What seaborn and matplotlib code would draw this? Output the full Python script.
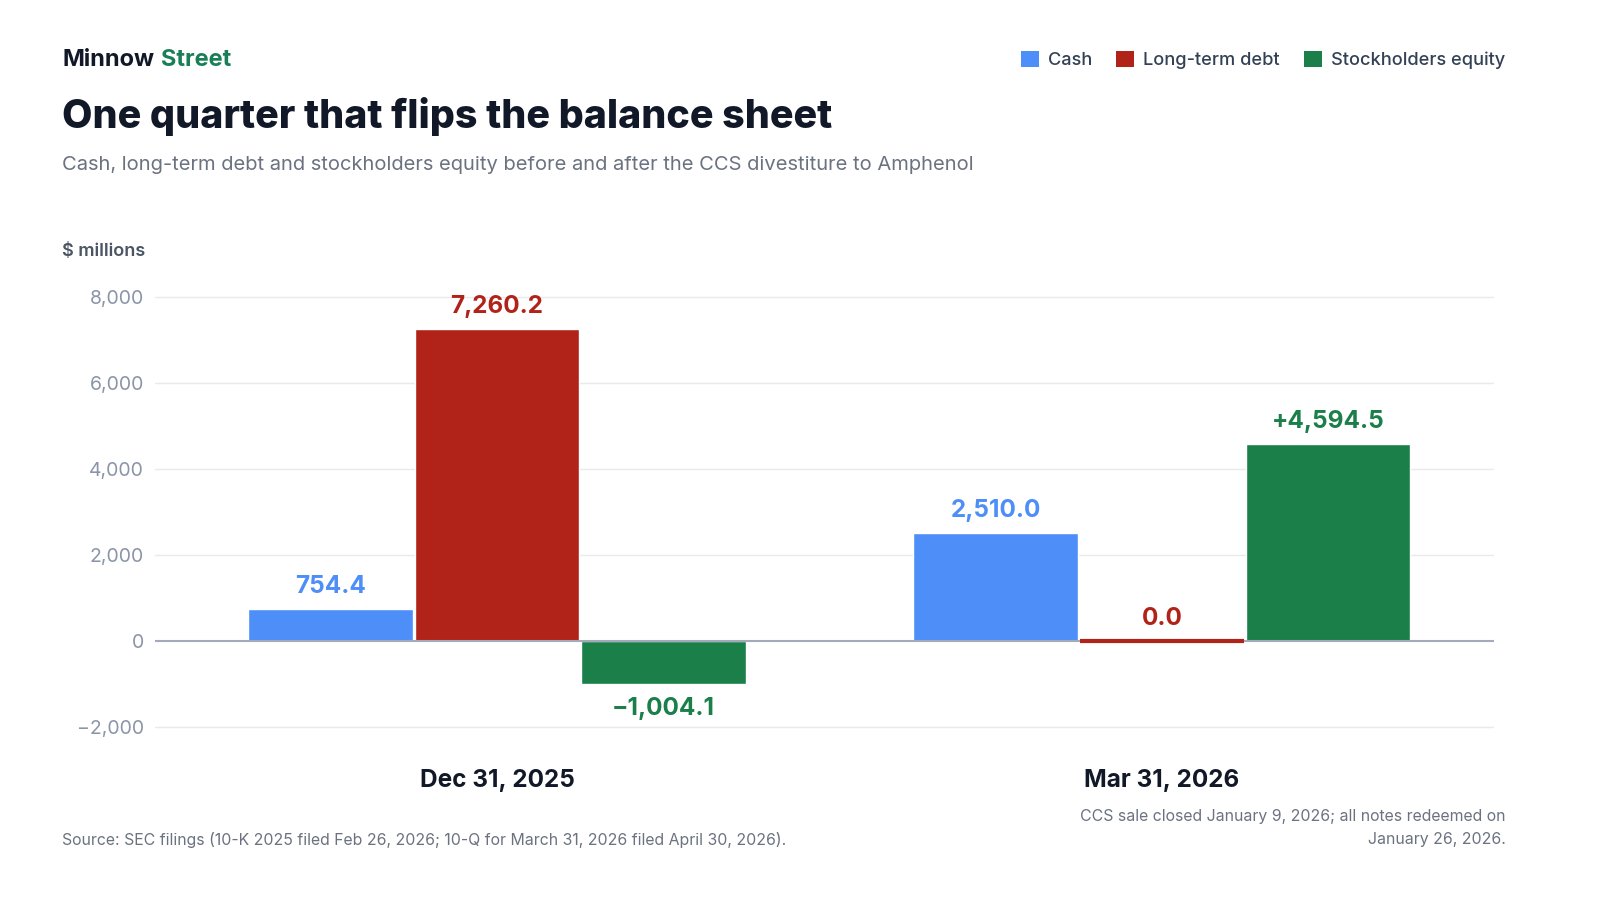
import matplotlib
matplotlib.use("Agg")
import matplotlib.pyplot as plt
import seaborn as sns
import pandas as pd
from matplotlib.patches import Patch

# Data ($ millions)
periods = ["Dec 31, 2025", "Mar 31, 2026"]
series = ["Cash", "Long-term debt", "Stockholders equity"]
cash = [754.4, 2510.0]
debt = [7260.2, 0.0]
equity = [-1004.1, 4594.5]
yticks = [-2000, 0, 2000, 4000, 6000, 8000]

colors = {"Cash": "#4d8ef8", "Long-term debt": "#b12318", "Stockholders equity": "#1b7f4a"}

rows = []
for name, vals in zip(series, [cash, debt, equity]):
    for p, v in zip(periods, vals):
        rows.append({"period": p, "series": name, "value": v})
df = pd.DataFrame(rows)

sns.set_theme(style="white")
plt.rcParams["font.family"] = ["Inter", "DejaVu Sans"]

fig = plt.figure(figsize=(16, 9), dpi=100)
ax = fig.add_axes([0.097, 0.173, 0.837, 0.511])

sns.barplot(data=df, x="period", y="value", hue="series", order=periods,
            hue_order=series, palette=colors, width=0.75, gap=0.01,
            saturation=1, ax=ax, legend=False, errorbar=None)

ax.set_xlim(-0.514, 1.5)
ax.set_ylim(-2400, 8300)
ax.set_yticks(yticks)
ax.set_yticklabels([f"{t:,}".replace("-", "\u2212") for t in yticks])
ax.tick_params(axis="y", labelsize=14, labelcolor="#8b95a7", length=0, pad=8)
ax.tick_params(axis="x", labelsize=17.5, labelcolor="#111827", length=0, pad=18)
for lbl in ax.get_xticklabels():
    lbl.set_fontweight("bold")
ax.set_xlabel("")
ax.set_ylabel("")
for s in ax.spines.values():
    s.set_visible(False)
for t in yticks:
    if t == 0:
        ax.axhline(0, color="#a3abbb", lw=1.5, zorder=3)
    else:
        ax.axhline(t, color="#e8eaee", lw=1, zorder=0)

# zero-height bars get a visible sliver, labels above/below bars
for container, name in zip(ax.containers, series):
    for bar, v in zip(container, df[df.series == name]["value"]):
        bar.set_zorder(2)
        if v == 0:
            bar.set_edgecolor(colors[name])
            bar.set_linewidth(3)
            bar.set_zorder(4)
        txt = f"{v:,.1f}".replace("-", "\u2212")
        if name == "Stockholders equity" and v > 0:
            txt = "+" + txt
        x = bar.get_x() + bar.get_width() / 2
        if v >= 0:
            ax.annotate(txt, (x, v), xytext=(0, 8), textcoords="offset points",
                        ha="center", va="bottom", fontsize=17.5, fontweight="bold",
                        color=colors[name])
        else:
            ax.annotate(txt, (x, v), xytext=(0, -9), textcoords="offset points",
                        ha="center", va="top", fontsize=17.5, fontweight="bold",
                        color=colors[name])

# header text
fig.text(0.039, 0.933, "Minnow", fontsize=17, fontweight="bold", color="#111827", va="center")
fig.text(0.1005, 0.933, "Street", fontsize=17, fontweight="bold", color="#1a7f56", va="center")
fig.text(0.039, 0.871, "One quarter that flips the balance sheet", fontsize=28.4,
         fontweight="heavy", color="#111827", va="center")
fig.text(0.039, 0.817, "Cash, long-term debt and stockholders equity before and after the CCS divestiture to Amphenol",
         fontsize=14.5, color="#6b7280", va="center")
fig.text(0.039, 0.720, "$ millions", fontsize=13, fontweight="semibold", color="#4b5563", va="center")

handles = [Patch(facecolor=colors[s], edgecolor="none", label=s) for s in series]
leg = fig.legend(handles=handles, loc="center right", bbox_to_anchor=(0.951, 0.933), ncol=3,
                 frameon=False, fontsize=13.1, handlelength=1.0, handleheight=1.0,
                 handletextpad=0.5, columnspacing=1.3, labelcolor="#334155")
for t in leg.get_texts():
    t.set_fontweight("medium")

# footer
fig.text(0.039, 0.067, "Source: SEC filings (10-K 2025 filed Feb 26, 2026; 10-Q for March 31, 2026 filed April 30, 2026).",
         fontsize=11.4, color="#6b7280", va="center")
fig.text(0.941, 0.080, "CCS sale closed January 9, 2026; all notes redeemed on\nJanuary 26, 2026.",
         fontsize=11.4, color="#6b7280", va="center", ha="right", linespacing=1.6)

fig.savefig("out.png", dpi=100, facecolor="white")
